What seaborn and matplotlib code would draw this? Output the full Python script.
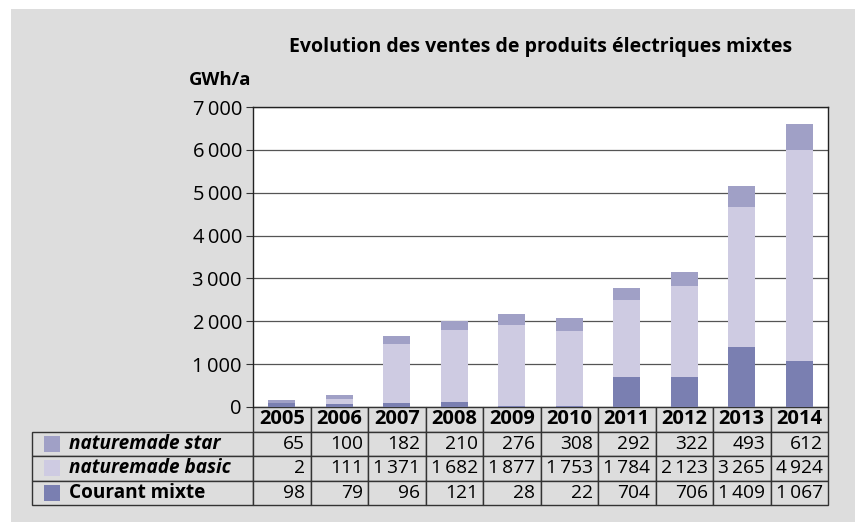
import numpy as np
import pandas as pd
import seaborn as sns
import matplotlib.pyplot as plt
import matplotlib.transforms as mtransforms
from matplotlib.patches import Rectangle

years = ['2005', '2006', '2007', '2008', '2009', '2010', '2011', '2012', '2013', '2014']
star = [65, 100, 182, 210, 276, 308, 292, 322, 493, 612]
basic = [2, 111, 1371, 1682, 1877, 1753, 1784, 2123, 3265, 4924]
mixte = [98, 79, 96, 121, 28, 22, 704, 706, 1409, 1067]

series_names = ['naturemade star', 'naturemade basic', 'Courant mixte']
colors = {'naturemade star': '#a0a0c6', 'naturemade basic': '#cecbe2', 'Courant mixte': '#7a7fb1'}
yticks = [0, 1000, 2000, 3000, 4000, 5000, 6000, 7000]

data = pd.DataFrame({'year': years, 'naturemade star': star,
                     'naturemade basic': basic, 'Courant mixte': mixte})


def fmt(v):
    return f'{v:,}'.replace(',', '\u2009')


sns.set_theme(style='white')
plt.rcParams['font.family'] = ['Open Sans', 'DejaVu Sans']
plt.rcParams['text.color'] = 'black'
plt.rcParams['ytick.labelcolor'] = 'black'
bg = '#dddddd'

fig = plt.figure(figsize=(8.55, 5.22), dpi=100)
fig.patch.set_facecolor('white')
fig.patches.append(Rectangle((11 / 855, 0), 1, 1 - 9 / 522, transform=fig.transFigure,
                             facecolor=bg, edgecolor='none', zorder=-10))
ax = fig.add_axes([253 / 855, 115 / 522, 575 / 855, 300 / 522])
ax.set_facecolor('white')

# stacked bars, bottom layer first
bottom = np.zeros(len(years))
for name in ['Courant mixte', 'naturemade basic', 'naturemade star']:
    sns.barplot(data=data, x='year', y=name, color=colors[name], bottom=bottom,
                width=0.47, saturation=1, linewidth=0, edgecolor='none', ax=ax, zorder=3)
    bottom = bottom + data[name].values

ax.set_xlim(-0.5, len(years) - 0.5)
ax.set_ylim(0, 7000)
ax.set_yticks(yticks)
ax.set_yticklabels([fmt(t) for t in yticks], fontsize=14.5)
ax.tick_params(axis='y', length=5, width=0.8, color='#333333', pad=3, left=True)
ax.set_xticks([])
ax.set_xlabel('')
ax.set_ylabel('')
ax.grid(axis='y', color='#555555', linewidth=0.9, zorder=0)
ax.set_axisbelow(True)
for s in ['left', 'top', 'right']:
    ax.spines[s].set_color('#222222')
    ax.spines[s].set_linewidth(1.0)
ax.spines['bottom'].set_visible(False)

fig.text(540.5 / 855, 1 - 47 / 522, 'Evolution des ventes de produits électriques mixtes',
         fontsize=14, fontweight='bold', ha='center', va='center')
fig.text(189 / 855, 1 - 80 / 522, 'GWh/a', fontsize=13.3, fontweight='bold',
         va='center', ha='left')

# data table under the axes: x in data units, y in axes fraction
trans = mtransforms.blended_transform_factory(ax.transData, ax.transAxes)
head_h = 25 / 300
row_h = 24.3 / 300
edge = '#333333'
label_left = -0.5 + (32 - 253) / 57.5

# header row with years
for i, y in enumerate(years):
    ax.add_patch(Rectangle((i - 0.5, -head_h), 1, head_h, transform=trans,
                           facecolor=bg, edgecolor=edge, lw=1.0, clip_on=False))
    ax.text(i, -head_h / 2, y, transform=trans, ha='center', va='center',
            fontsize=14.5, fontweight='bold', clip_on=False)

for r, name in enumerate(series_names):
    y0 = -head_h - row_h * (r + 1)
    ax.add_patch(Rectangle((label_left, y0), -0.5 - label_left, row_h, transform=trans,
                           facecolor=bg, edgecolor=edge, lw=1.0, clip_on=False))
    ax.add_patch(Rectangle((label_left + 12 / 57.5, y0 + row_h * 0.17), 16 / 57.5,
                           row_h * 0.66, transform=trans, facecolor=colors[name],
                           edgecolor='none', clip_on=False))
    ax.text(label_left + 37 / 57.5, y0 + row_h / 2, name, transform=trans,
            ha='left', va='center', fontsize=13.7, fontweight='bold',
            fontstyle='normal' if name == 'Courant mixte' else 'italic', clip_on=False)
    for i, v in enumerate(data[name]):
        ax.add_patch(Rectangle((i - 0.5, y0), 1, row_h, transform=trans,
                               facecolor=bg, edgecolor=edge, lw=1.0, clip_on=False))
        ax.text(i + 0.41, y0 + row_h / 2, fmt(v), transform=trans, ha='right',
                va='center', fontsize=13.8, clip_on=False)

fig.savefig('out.png', dpi=100, facecolor=fig.get_facecolor())
